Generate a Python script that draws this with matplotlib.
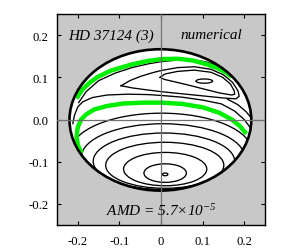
import matplotlib
matplotlib.use("Agg")
import matplotlib.pyplot as plt
from matplotlib.patches import Ellipse

# limit of the allowed region (AMD ellipse)
rim_center = (-0.0015, -0.001)
rim_half_w = 0.2185
rim_half_h = 0.1675

# closed level curves in the lower part (libration around the bottom centre)
ring_cx = [0.010, 0.010, 0.010, 0.009, 0.007, 0.0045, 0.001]
ring_cy = [-0.130, -0.127, -0.1175, -0.1085, -0.099, -0.089, -0.0765]
ring_w = [0.0065, 0.051, 0.100, 0.142, 0.170, 0.196, 0.218]
ring_h = [0.0032, 0.022, 0.0395, 0.0545, 0.067, 0.079, 0.0915]

# small island in the upper right
island_c = (0.104, 0.091)
island_w = 0.020
island_h = 0.005

# outer banana-shaped curve
outer_x = [-0.096, -0.075, -0.05, -0.02, 0.0, 0.04, 0.08, 0.12, 0.15, 0.172, 0.185, 0.188,
           0.18, 0.15, 0.10, 0.05, 0.0, -0.04, -0.07, -0.096]
outer_y = [0.080, 0.092, 0.102, 0.111, 0.116, 0.123, 0.125, 0.119, 0.106, 0.088, 0.068, 0.055,
           0.049, 0.051, 0.056, 0.061, 0.066, 0.071, 0.075, 0.080]

# inner loop around the island
inner_x = [-0.002, 0.01, 0.04, 0.08, 0.12, 0.148, 0.167, 0.176, 0.177,
           0.17, 0.14, 0.10, 0.06, 0.03, 0.008, -0.002]
inner_y = [0.100, 0.108, 0.114, 0.117, 0.112, 0.100, 0.084, 0.068, 0.060,
           0.058, 0.063, 0.073, 0.083, 0.090, 0.095, 0.100]

# open curves that end on the rim
open1_x = [-0.198, -0.18, -0.15, -0.11, -0.07, -0.03, 0.0, 0.04, 0.08, 0.11, 0.135, 0.155, 0.172, 0.185]
open1_y = [0.040, 0.066, 0.092, 0.110, 0.123, 0.132, 0.137, 0.141, 0.141, 0.136, 0.128, 0.118, 0.105, 0.092]
open2_x = [-0.212, -0.208, -0.2, -0.188, -0.165, -0.13, -0.08, -0.03, 0.0, 0.05, 0.10, 0.145, 0.177, 0.2, 0.215]
open2_y = [-0.010, 0.010, 0.030, 0.042, 0.052, 0.058, 0.060, 0.059, 0.057, 0.053, 0.046, 0.037, 0.020, 0.0, -0.020]
open3_x = [0.16, 0.185, 0.205, 0.22]
open3_y = [0.048, 0.035, 0.018, 0.0]

# numerical orbits (green)
green1_x = [-0.203, -0.19, -0.172, -0.152, -0.12, -0.072, -0.03, 0.0, 0.04, 0.076, 0.11, 0.135, 0.156, 0.170]
green1_y = [0.050, 0.070, 0.087, 0.101, 0.116, 0.130, 0.139, 0.143, 0.144, 0.140, 0.131, 0.122, 0.112, 0.101]
green2_x = [-0.191, -0.2, -0.203, -0.2, -0.192, -0.18, -0.16, -0.13, -0.09, -0.04, 0.0, 0.05, 0.10, 0.14,
            0.17, 0.19, 0.205]
green2_y = [-0.080, -0.060, -0.040, -0.018, 0.0, 0.012, 0.024, 0.032, 0.038, 0.040, 0.040, 0.037, 0.029,
            0.016, 0.0, -0.016, -0.034]

ticks = [-0.2, -0.1, 0.0, 0.1, 0.2]
xtick_labels = ["-0.2", "-0.1", "0", "0.1", "0.2"]
ytick_labels = ["-0.2", "-0.1", "0.0", "0.1", "0.2"]

plt.rcParams["font.family"] = ["Liberation Serif", "DejaVu Serif"]
plt.rcParams["mathtext.fontset"] = "custom"
plt.rcParams["mathtext.rm"] = "Liberation Serif:italic"
plt.rcParams["mathtext.it"] = "Liberation Serif:italic"
plt.rcParams["axes.unicode_minus"] = False

fig = plt.figure(figsize=(2.94, 2.53), dpi=100)
ax = fig.add_axes([0.1939, 0.1067, 0.7075, 0.834])
ax.set_facecolor("#c8c8c8")

disk = Ellipse(rim_center, 2 * rim_half_w, 2 * rim_half_h, facecolor="white",
               edgecolor="none", zorder=1)
ax.add_patch(disk)

black = dict(color="black", lw=0.95, zorder=2, solid_joinstyle="round")

for cx, cy, w, h in zip(ring_cx, ring_cy, ring_w, ring_h):
    e = Ellipse((cx, cy), 2 * w, 2 * h, fill=False, edgecolor="black", lw=0.95, zorder=2)
    ax.add_patch(e)
    e.set_clip_path(disk)

isl = Ellipse(island_c, 2 * island_w, 2 * island_h, fill=False, edgecolor="black", lw=0.95, zorder=2)
ax.add_patch(isl)

for xs, ys in [(outer_x, outer_y), (inner_x, inner_y), (open1_x, open1_y),
               (open2_x, open2_y), (open3_x, open3_y)]:
    line, = ax.plot(xs, ys, **black)
    line.set_clip_path(disk)

for xs, ys in [(green1_x, green1_y), (green2_x, green2_y)]:
    line, = ax.plot(xs, ys, color="#00ee00", lw=3.2, zorder=3,
                    solid_capstyle="butt", solid_joinstyle="round")
    line.set_clip_path(disk)

rim = Ellipse(rim_center, 2 * rim_half_w, 2 * rim_half_h, fill=False,
              edgecolor="black", lw=1.9, zorder=4)
ax.add_patch(rim)

ax.axhline(0, color="#707070", lw=0.9, zorder=5)
ax.axvline(0, color="#707070", lw=0.9, zorder=5)

ax.text(-0.222, 0.191, "HD 37124 (3)", fontsize=11, style="italic", ha="left", va="baseline", zorder=6)
ax.text(0.195, 0.192, "numerical", fontsize=11, style="italic", ha="right", va="baseline", zorder=6)
ax.text(0.0, -0.226, "AMD = 5.7×10$^{-5}$", fontsize=11, style="italic", ha="center",
        va="baseline", zorder=6)

ax.set_xlim(-0.25, 0.25)
ax.set_ylim(-0.25, 0.25)
ax.set_xticks(ticks)
ax.set_xticklabels(xtick_labels)
ax.set_yticks(ticks)
ax.set_yticklabels(ytick_labels)
ax.tick_params(direction="in", top=True, right=True, length=3, width=0.8, labelsize=9.2)
ax.tick_params(axis="x", pad=7)
ax.tick_params(axis="y", pad=6)
for s in ax.spines.values():
    s.set_linewidth(1.0)

fig.savefig("out.png", dpi=100)
